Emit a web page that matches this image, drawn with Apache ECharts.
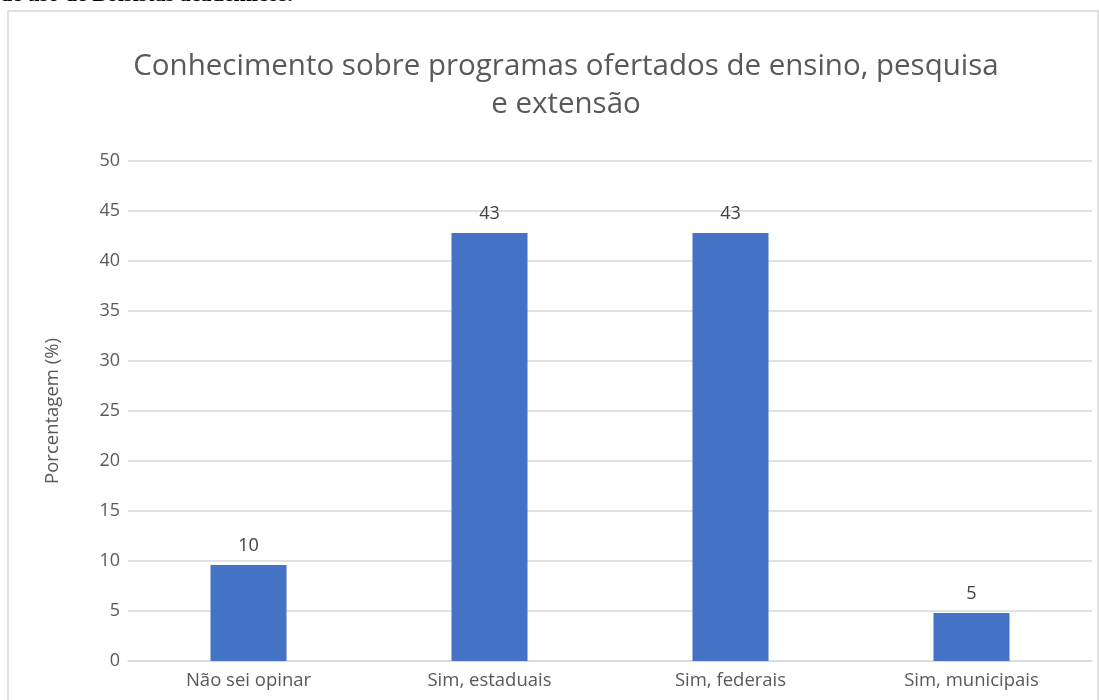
<!DOCTYPE html>
<html>
<head>
<meta charset="utf-8">
<script src="https://cdn.jsdelivr.net/npm/echarts@6/dist/echarts.min.js"></script>
<style>
  html, body { margin: 0; padding: 0; background: #fff; }
  #main { width: 1099px; height: 700px; }
</style>
</head>
<body>
<div id="main"></div>
<script>
// dados do grafico
var categorias = ['Não sei opinar', 'Sim, estaduais', 'Sim, federais', 'Sim, municipais'];
var porcentagens = [9.6, 42.8, 42.8, 4.8];
var rotulos = ['10', '43', '43', '5'];

var fonte = '"Open Sans", sans-serif';

var chart = echarts.init(document.getElementById('main'));

var option = {
  animation: false,
  backgroundColor: '#fff',
  title: {
    text: 'Conhecimento sobre programas ofertados de ensino, pesquisa\ne extensão',
    left: 561,
    top: 43,
    textAlign: 'center',
    textStyle: {
      fontFamily: fonte,
      fontWeight: 'normal',
      fontSize: 29.5,
      lineHeight: 38,
      color: '#595959'
    }
  },
  graphic: [
    {
      type: 'rect',
      shape: { x: 8, y: 11, width: 1090, height: 700 },
      style: { fill: 'none', stroke: '#d9d9d9', lineWidth: 1.5 },
      silent: true
    },
    {
      type: 'text',
      left: 0,
      top: -16,
      style: {
        text: 'de uso de Bolsistas acadêmicos.',
        font: 'bold 22px "Liberation Serif", serif',
        fill: '#000'
      }
    }
  ],
  grid: { left: 128, right: 7, top: 161, bottom: 39 },
  xAxis: {
    type: 'category',
    data: categorias,
    axisLine: { lineStyle: { color: '#d9d9d9', width: 1.5 } },
    axisTick: { show: false },
    axisLabel: {
      fontFamily: fonte,
      fontSize: 18.5,
      color: '#595959',
      margin: 10
    }
  },
  yAxis: {
    type: 'value',
    min: 0,
    max: 50,
    interval: 5,
    name: 'Porcentagem (%)',
    nameLocation: 'middle',
    nameGap: 66,
    nameTextStyle: { fontFamily: fonte, fontSize: 18.5, color: '#595959' },
    axisLine: { show: false },
    axisTick: { show: false },
    splitLine: { lineStyle: { color: '#d9d9d9', width: 1.5 } },
    axisLabel: { fontFamily: fonte, fontSize: 18, color: '#595959', margin: 8 }
  },
  series: [
    {
      type: 'bar',
      data: porcentagens,
      barWidth: 76,
      itemStyle: { color: '#4472c4' },
      label: {
        show: true,
        position: 'top',
        distance: 10,
        fontFamily: fonte,
        fontSize: 18,
        color: '#404040',
        formatter: function (p) { return rotulos[p.dataIndex]; }
      }
    }
  ]
};

chart.setOption(option);
</script>
</body>
</html>
